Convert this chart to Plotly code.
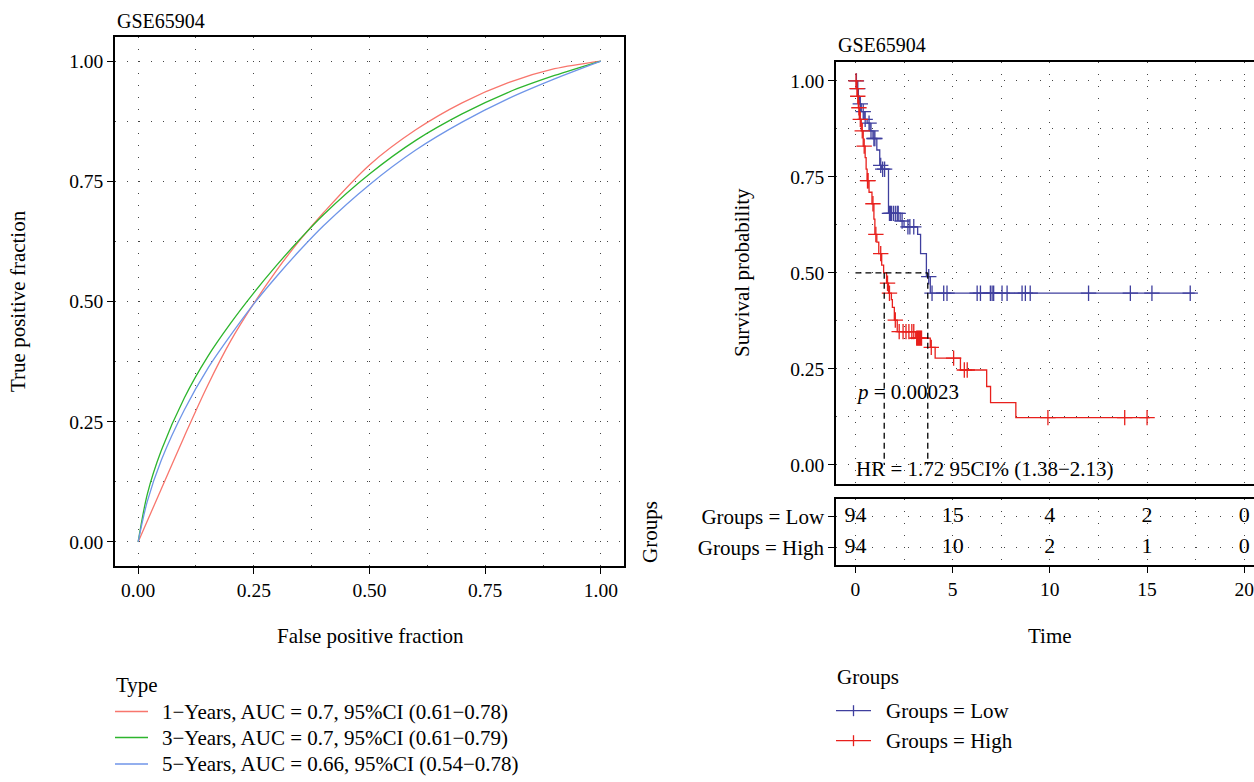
import plotly.graph_objects as go

FONT = "Liberation Serif"
FS = 21      # text size
TFS = 19.5   # tick label size
RFS = 22     # risk table text size
W, H = 1254, 782

# ---------------- ROC data ----------------
roc_fpr = [0, 0.02, 0.05, 0.1, 0.15, 0.2, 0.25, 0.3, 0.35, 0.4, 0.5, 0.6, 0.7, 0.8, 0.9, 1.0]
roc_tpr_1y = [0, 0.044, 0.11, 0.22, 0.325, 0.418, 0.496, 0.566, 0.628, 0.684, 0.784, 0.857, 0.913, 0.955, 0.984, 1.0]
roc_tpr_3y = [0, 0.10, 0.19, 0.30, 0.385, 0.455, 0.518, 0.576, 0.63, 0.68, 0.765, 0.835, 0.89, 0.935, 0.97, 1.0]
roc_tpr_5y = [0, 0.085, 0.17, 0.275, 0.36, 0.43, 0.495, 0.553, 0.607, 0.657, 0.743, 0.815, 0.873, 0.922, 0.963, 1.0]
roc_names = ["1\u2212Years, AUC = 0.7, 95%CI (0.61\u22120.78)",
             "3\u2212Years, AUC = 0.7, 95%CI (0.61\u22120.79)",
             "5\u2212Years, AUC = 0.66, 95%CI (0.54\u22120.78)"]
roc_colors = ["#F8766D", "#2DB52D", "#6F95E8"]
roc_ticks = [0, 0.25, 0.5, 0.75, 1.0]

# ---------------- KM data ----------------
low_step_t = [0, 0.1, 0.15, 0.2, 0.3, 0.45, 0.6, 0.75, 0.9, 1.1, 1.25, 1.35, 1.7, 2.3, 2.5, 3.2, 3.35, 3.65, 3.85]
low_step_s = [1.0, 0.98, 0.96, 0.94, 0.92, 0.90, 0.89, 0.87, 0.85, 0.82, 0.78, 0.77, 0.655, 0.635, 0.62, 0.60, 0.55, 0.49, 0.447]
low_end = 17.45
low_censor_t = [0.05, 0.12, 0.25, 0.4, 0.5, 0.7, 0.8, 0.95, 1.0, 1.3, 1.4, 1.5, 1.75, 1.8, 1.85, 1.95,
                2.05, 2.15, 2.2, 2.4, 2.7, 2.8, 3.0, 3.77, 3.94, 4.54, 4.71, 6.26, 6.43, 6.94, 7.03, 7.11,
                7.54, 7.80, 8.57, 8.74, 8.99, 11.99, 14.14, 15.25, 17.22]

high_step_t = [0, 0.05, 0.1, 0.15, 0.2, 0.3, 0.4, 0.5, 0.55, 0.6, 0.7, 0.85, 0.95, 1.0, 1.1, 1.2, 1.35,
               1.45, 1.6, 1.7, 1.85, 1.9, 2.0, 2.15, 3.1, 3.85, 4.1, 5.4, 6.75, 6.95, 8.25]
high_step_s = [1.0, 0.98, 0.96, 0.93, 0.90, 0.87, 0.83, 0.80, 0.77, 0.74, 0.71, 0.68, 0.64, 0.60, 0.58,
               0.55, 0.52, 0.50, 0.473, 0.447, 0.43, 0.41, 0.377, 0.347, 0.33, 0.306, 0.278, 0.247,
               0.204, 0.162, 0.123]
high_end = 15.15
high_censor_t = [0.03, 0.08, 0.12, 0.18, 0.25, 0.35, 0.45, 0.62, 0.65, 0.9, 1.05, 1.3, 1.65, 1.75, 2.05,
                 2.25, 2.45, 2.6, 2.75, 2.9, 3.0, 3.15, 3.2, 3.25, 3.3, 3.35, 3.4, 3.9, 5.05, 5.6, 5.75,
                 9.9, 13.85, 15.0]

median_low = 3.72
median_high = 1.48
km_groups = ["Low", "High"]
km_colors = {"Low": "#3F3F9E", "High": "#E8201C"}
km_yticks = [0, 0.25, 0.5, 0.75, 1.0]
time_ticks = [0, 5, 10, 15, 20]
risk_low = [94, 15, 4, 2, 0]
risk_high = [94, 10, 2, 1, 0]
p_text = "<i>p</i> = 0.00023"
hr_text = "HR = 1.72 95CI% (1.38\u22122.13)"


def px(x):
    return x / W


def py(y):
    return 1 - y / H


def km_arrays(step_t, step_s, end_t, censor_t):
    steps = list(zip(step_t, step_s)) + [(end_t, step_s[-1])]
    cens = []
    for c in censor_t:
        s = step_s[0]
        for t, v in zip(step_t, step_s):
            if t <= c:
                s = v
        cens.append((c, s))
    return [p[0] for p in steps], [p[1] for p in steps], [p[0] for p in cens], [p[1] for p in cens]


fig = go.Figure()

# ROC curves
for tpr, name, col in zip([roc_tpr_1y, roc_tpr_3y, roc_tpr_5y], roc_names, roc_colors):
    fig.add_trace(go.Scatter(x=roc_fpr, y=tpr, mode="lines", name=name, showlegend=False,
                             line=dict(color=col, width=1.3, shape="spline", smoothing=0.9),
                             xaxis="x", yaxis="y"))

# KM curves
for grp, (st, ss, en, ct) in {"Low": (low_step_t, low_step_s, low_end, low_censor_t),
                              "High": (high_step_t, high_step_s, high_end, high_censor_t)}.items():
    lx, ly, cx, cy = km_arrays(st, ss, en, ct)
    col = km_colors[grp]
    fig.add_trace(go.Scatter(x=lx, y=ly, mode="lines", name="Groups = " + grp,
                             line=dict(color=col, width=1.3, shape="hv"),
                             xaxis="x2", yaxis="y2", showlegend=False))
    fig.add_trace(go.Scatter(x=cx, y=cy, mode="markers", name="censor " + grp,
                             marker=dict(symbol="cross-thin", size=11, color=col,
                                         line=dict(color=col, width=1.3)),
                             xaxis="x2", yaxis="y2", showlegend=False))

# median lines
dash = dict(color="black", width=1.3, dash="6px,4px")
fig.add_trace(go.Scatter(x=[0, median_low], y=[0.5, 0.5], mode="lines", line=dash,
                         xaxis="x2", yaxis="y2", showlegend=False))
for m in (median_high, median_low):
    fig.add_trace(go.Scatter(x=[m, m], y=[0.5, 0], mode="lines", line=dash,
                             xaxis="x2", yaxis="y2", showlegend=False))

# risk table
fig.add_trace(go.Scatter(x=time_ticks, y=["Groups = Low"] * len(time_ticks),
                         text=[str(v) for v in risk_low], mode="text",
                         textfont=dict(family=FONT, size=RFS, color="black"),
                         xaxis="x3", yaxis="y3", showlegend=False))
fig.add_trace(go.Scatter(x=time_ticks, y=["Groups = High"] * len(time_ticks),
                         text=[str(v) for v in risk_high], mode="text",
                         textfont=dict(family=FONT, size=RFS, color="black"),
                         xaxis="x3", yaxis="y3", showlegend=False))

GRID = dict(showgrid=True, gridcolor="#444444", gridwidth=1.3, griddash="1px,11px", zeroline=False)


def MINOR(d):
    return dict(dtick=d, showgrid=True, gridcolor="#444444", gridwidth=1.3,
                griddash="1px,11px", ticks="")


TICKFONT = dict(family=FONT, size=TFS, color="black")
AX = dict(ticks="outside", ticklen=6, tickcolor="black", tickfont=TICKFONT,
          showline=True, linecolor="black", linewidth=1.5)

fig.update_layout(
    width=W, height=H, margin=dict(l=0, r=0, t=0, b=0),
    paper_bgcolor="white", plot_bgcolor="white", showlegend=False,
    font=dict(family=FONT, size=FS, color="black"),
    xaxis=dict(domain=[px(115), px(624)], range=[-0.05, 1.05], tickvals=roc_ticks,
               ticktext=[f"{v:.2f}" for v in roc_ticks], mirror=True, anchor="y",
               minor=MINOR(0.125), **AX, **GRID),
    yaxis=dict(domain=[py(566), py(37)], range=[-0.05, 1.05], tickvals=roc_ticks,
               ticktext=[f"{v:.2f}" for v in roc_ticks], mirror=True, anchor="x",
               minor=MINOR(0.125), **AX, **GRID),
    xaxis2=dict(domain=[px(836), 1.0], range=[-1, 20.5], tickvals=time_ticks, showticklabels=False,
                ticks="", showline=True, linecolor="black", linewidth=1.5, mirror=True,
                anchor="y2", minor=MINOR(2.5), **GRID),
    yaxis2=dict(domain=[py(484), py(61.7)], range=[-0.05, 1.05], tickvals=km_yticks,
                ticktext=[f"{v:.2f}" for v in km_yticks], mirror=False, anchor="x2",
                minor=MINOR(0.125), **AX, **GRID),
    xaxis3=dict(domain=[px(836), 1.0], range=[-1, 20.5], tickvals=time_ticks, mirror=True,
                anchor="y3", minor=MINOR(2.5), ticklabeloverflow="allow", **AX, **GRID),
    yaxis3=dict(domain=[py(565), py(499)], range=[-0.57, 1.56], type="category",
                categoryorder="array", categoryarray=["Groups = High", "Groups = Low"],
                mirror=False, anchor="x3", **AX, **GRID),
)
fig.update_yaxes(tickfont=dict(family=FONT, size=FS, color="black"), selector=dict(anchor="x3"))

annos = [
    dict(text="GSE65904", x=px(115), y=py(21), xanchor="left", size=20),
    dict(text="GSE65904", x=px(836), y=py(45), xanchor="left", size=20),
    dict(text="False positive fraction", x=px(370), y=py(636), xanchor="center", size=FS),
    dict(text="True positive fraction", x=px(18), y=py(301), xanchor="center", textangle=-90, size=FS),
    dict(text="Survival probability", x=px(742), y=py(273), xanchor="center", textangle=-90, size=FS),
    dict(text="Groups", x=px(650), y=py(532), xanchor="center", textangle=-90, size=FS),
    dict(text="Time", x=px(1050), y=py(636), xanchor="center", size=FS),
    # legend titles
    dict(text="Type", x=px(114), y=py(685), xanchor="left", size=FS),
    dict(text="Groups", x=px(835), y=py(677), xanchor="left", size=FS),
]

# ROC legend entries
roc_leg_y = [711.5, 737.5, 764]
for name, col, ly in zip(roc_names, roc_colors, roc_leg_y):
    fig.add_shape(type="line", xref="paper", yref="paper", x0=px(115), x1=px(148),
                  y0=py(ly), y1=py(ly), line=dict(color=col, width=1.3))
    annos.append(dict(text=name, x=px(160), y=py(ly), xanchor="left", size=FS))

# KM legend entries
km_leg_y = [710.7, 740.7]
for grp, ly in zip(km_groups, km_leg_y):
    col = km_colors[grp]
    fig.add_shape(type="line", xref="paper", yref="paper", x0=px(836), x1=px(871),
                  y0=py(ly), y1=py(ly), line=dict(color=col, width=1.3))
    fig.add_shape(type="line", xref="paper", yref="paper", x0=px(853.5), x1=px(853.5),
                  y0=py(ly - 5.5), y1=py(ly + 5.5), line=dict(color=col, width=1.3))
    annos.append(dict(text="Groups = " + grp, x=px(884), y=py(ly), xanchor="left", size=FS))

for a in annos:
    sz = a.pop("size")
    fig.add_annotation(xref="paper", yref="paper", showarrow=False, yanchor="middle",
                       font=dict(family=FONT, size=sz, color="black"), **a)

fig.add_annotation(xref="x2", yref="y2", x=-0.1, y=0.19, text=p_text, showarrow=False,
                   xanchor="left", yanchor="middle", font=dict(family=FONT, size=FS, color="black"))
fig.add_annotation(xref="x2", yref="y2", x=-0.1, y=-0.012, text=hr_text, showarrow=False,
                   xanchor="left", yanchor="middle", font=dict(family=FONT, size=FS, color="black"))

fig.write_html("out.html")
